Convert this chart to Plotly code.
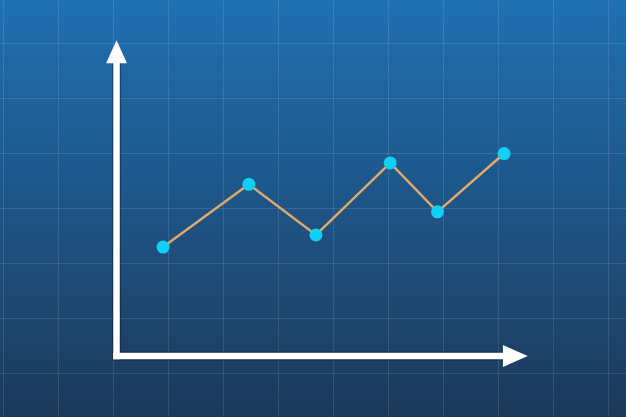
import plotly.graph_objects as go

# dados da linha (em unidades da grade: 1 unidade = 1 quadrado)
x_vals = [2.91, 4.47, 5.69, 7.04, 7.90, 9.11]
y_vals = [2.29, 3.43, 2.51, 3.82, 2.93, 3.99]

W, H = 626, 417
X_RANGE = [-0.0545, 11.327]
Y_RANGE = [-0.8, 6.782]


def blend(c1, c2, t):
    a = [int(c1[i:i + 2], 16) for i in (1, 3, 5)]
    b = [int(c2[i:i + 2], 16) for i in (1, 3, 5)]
    return "rgb(%d,%d,%d)" % tuple(round(a[k] + (b[k] - a[k]) * t) for k in range(3))


fig = go.Figure()

fig.add_trace(go.Scatter(
    x=x_vals, y=y_vals,
    mode="lines+markers",
    line=dict(color="#e3a968", width=2.5),
    marker=dict(color="#12cff4", size=13, line=dict(width=0)),
    hoverinfo="skip",
))

shapes = []

# fundo em degradê (faixas horizontais)
n_bands = 140
for i in range(n_bands):
    t = i / (n_bands - 1)
    shapes.append(dict(
        type="rect", xref="paper", yref="paper",
        x0=0, x1=1, y0=i / n_bands, y1=(i + 1) / n_bands + 0.002,
        fillcolor=blend("#1d395a", "#1f70b2", t),
        line=dict(width=0), layer="below",
    ))

# eixos com setas
ox, oy = 2.064, 0.309
top_y, right_x = 5.63, 9.09
for col, w in (("rgba(10,25,50,0.45)", 9), ("white", 6.5)):
    shapes.append(dict(type="line", xref="x", yref="y",
                       x0=ox, y0=oy - 0.06, x1=ox, y1=top_y + 0.05,
                       line=dict(color=col, width=w), layer="above"))
    shapes.append(dict(type="line", xref="x", yref="y",
                       x0=ox - 0.06, y0=oy, x1=right_x + 0.05, y1=oy,
                       line=dict(color=col, width=w), layer="above"))

shapes.append(dict(
    type="path", xref="x", yref="y", layer="above",
    path="M %f %f L %f %f L %f %f Z" % (ox - 0.19, top_y, ox + 0.19, top_y, ox, top_y + 0.42),
    fillcolor="white", line=dict(width=0),
))
shapes.append(dict(
    type="path", xref="x", yref="y", layer="above",
    path="M %f %f L %f %f L %f %f Z" % (right_x, oy + 0.2, right_x, oy - 0.2, right_x + 0.45, oy),
    fillcolor="white", line=dict(width=0),
))

fig.update_layout(
    width=W, height=H,
    margin=dict(l=0, r=0, t=0, b=0),
    paper_bgcolor="#1e5486",
    plot_bgcolor="rgba(0,0,0,0)",
    showlegend=False,
    shapes=shapes,
    xaxis=dict(range=X_RANGE, tick0=0, dtick=1, showgrid=True,
               gridcolor="rgba(255,255,255,0.11)", gridwidth=1,
               zeroline=False, showticklabels=False, ticks="", fixedrange=True),
    yaxis=dict(range=Y_RANGE, tick0=0, dtick=1, showgrid=True,
               gridcolor="rgba(255,255,255,0.11)", gridwidth=1,
               zeroline=False, showticklabels=False, ticks="", fixedrange=True),
)

# tirar a margem padrão da página
fig.write_html(
    "out.html",
    config={"displayModeBar": False},
    post_script="document.body.style.margin='0';document.body.style.overflow='hidden';",
)
